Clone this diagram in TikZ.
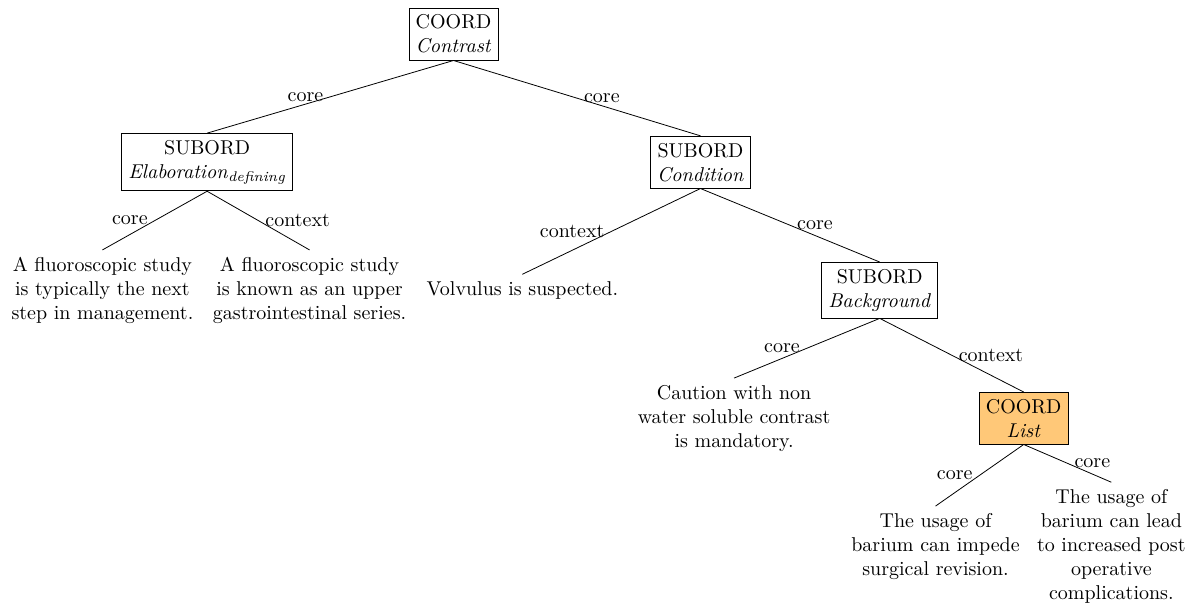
\documentclass[tikz,border=0pt]{standalone}
\usepackage{amsmath}
\usepackage{tikz}
\definecolor{listfill}{RGB}{255,200,120}

\begin{document}
\begin{tikzpicture}[rel/.style={draw, align=center}, leaf/.style={align=center}]
\path[use as bounding box] (-7.97,0.6) rectangle (12.96,-10.07);
\node[rel] (Root) at (0,0) {COORD\\\textit{Contrast}};
\node[rel] (Elab) at (-4.33,-2.25) {SUBORD\\\textit{Elaboration}$_{\textit{defining}}$};
\node[rel] (Cond) at (4.34,-2.25) {SUBORD\\\textit{Condition}};
\node[leaf] (L1) at (-6.17,-4.5) {A fluoroscopic study\\is typically the next\\step in management.};
\node[leaf] (L2) at (-2.53,-4.5) {A fluoroscopic study\\is known as an upper\\gastrointestinal series.};
\node[leaf] (Volv) at (1.21,-4.5) {Volvulus is suspected.};
\node[rel] (Back) at (7.49,-4.5) {SUBORD\\\textit{Background}};
\node[leaf] (Caut) at (4.93,-6.75) {Caution with non\\water soluble contrast\\is mandatory.};
\node[rel, fill=listfill] (List) at (10.02,-6.75) {COORD\\\textit{List}};
\node[leaf] (L3) at (8.47,-9) {The usage of\\barium can impede\\surgical revision.};
\node[leaf] (L4) at (11.56,-9) {The usage of\\barium can lead\\to increased post\\operative\\complications.};
\draw (Root.south) -- node[midway, left] {core} (Elab.north);
\draw (Root.south) -- node[midway, right] {core} (Cond.north);
\draw (Elab.south) -- node[midway, left] {core} (L1.north);
\draw (Elab.south) -- node[midway, right] {context} (L2.north);
\draw (Cond.south) -- node[midway, left] {context} (Volv.north);
\draw (Cond.south) -- node[midway, right] {core} (Back.north);
\draw (Back.south) -- node[midway, left] {core} (Caut.north);
\draw (Back.south) -- node[midway, right] {context} (List.north);
\draw (List.south) -- node[midway, left] {core} (L3.north);
\draw (List.south) -- node[midway, right] {core} (L4.north);
\end{tikzpicture}
\end{document}
